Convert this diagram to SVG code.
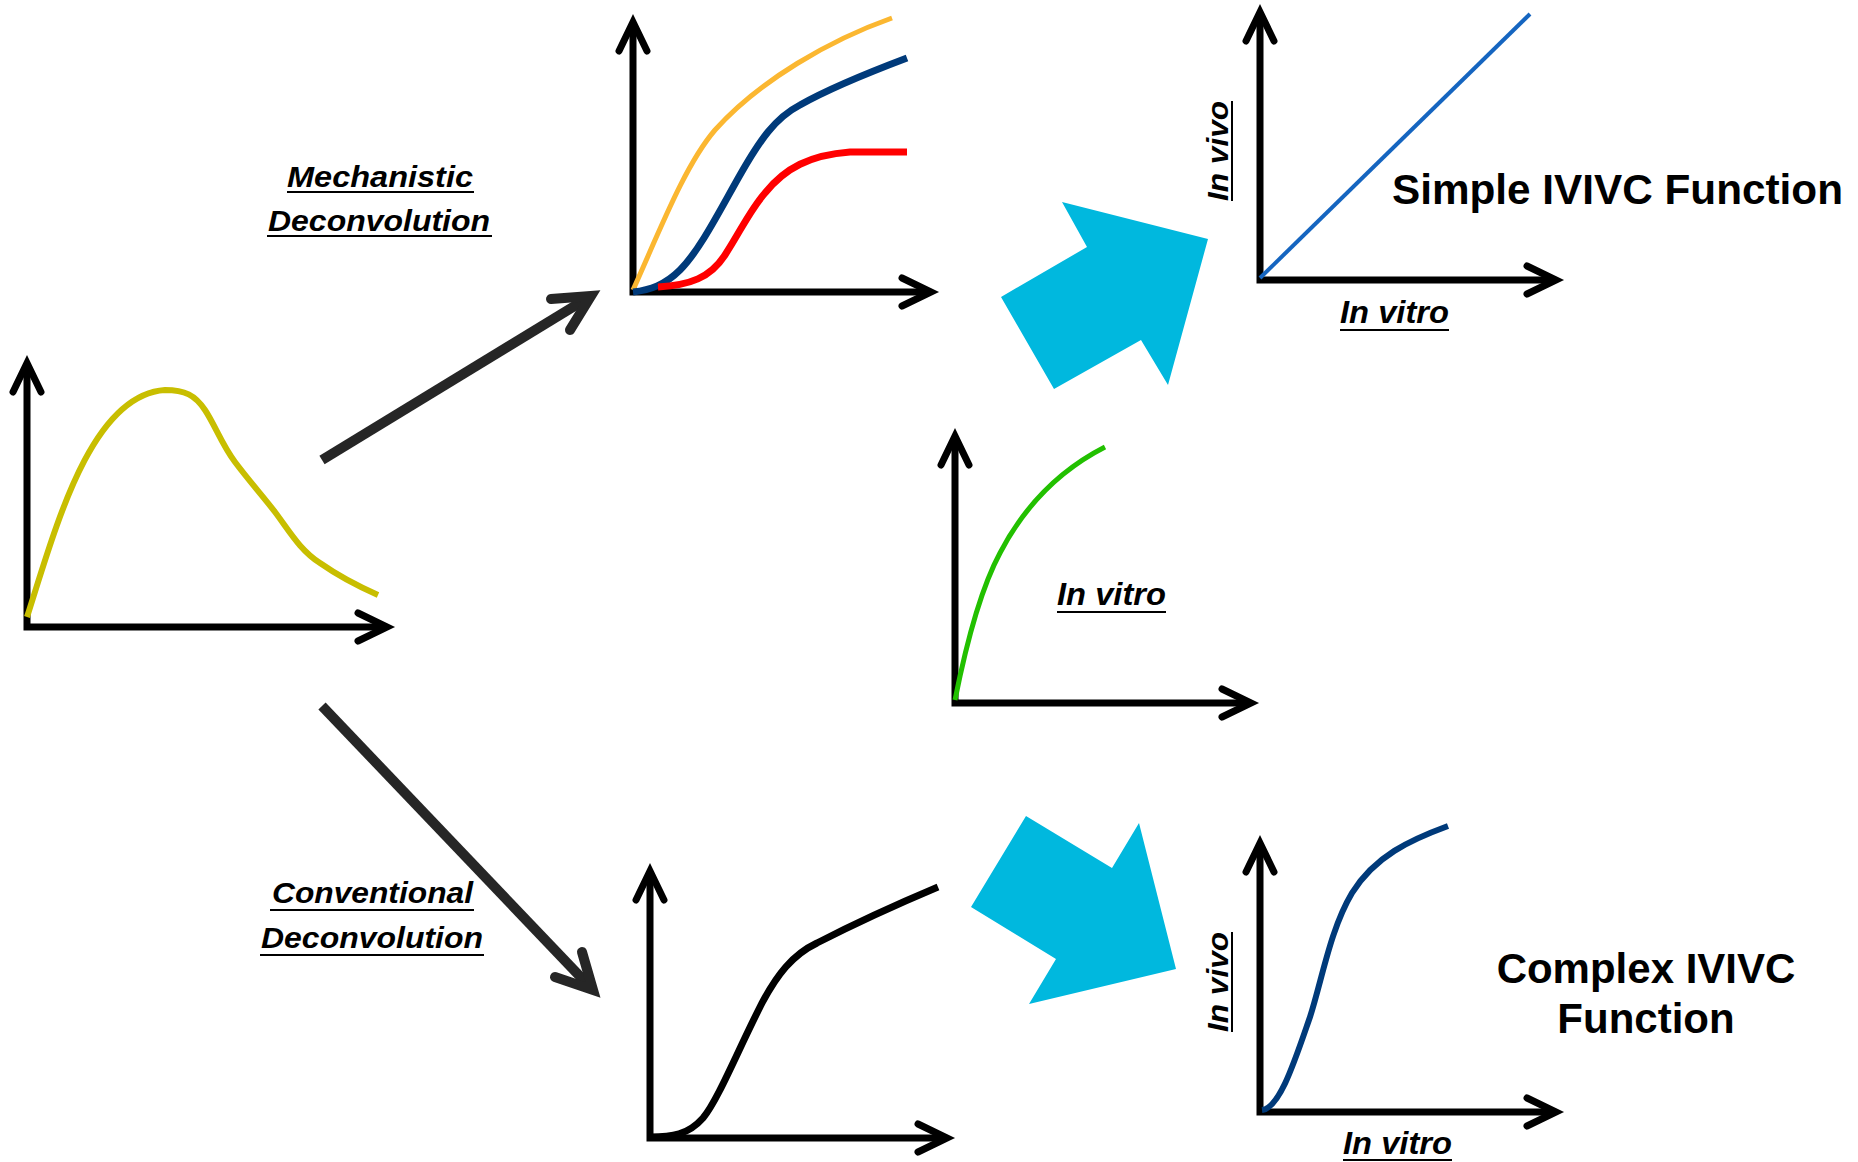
<svg xmlns="http://www.w3.org/2000/svg" width="1858" height="1162" viewBox="0 0 1858 1162">
<style>
.ax{fill:none;stroke:#000;stroke-width:7;stroke-linecap:round;stroke-linejoin:miter}
.axl{fill:none;stroke:#000;stroke-width:7;stroke-linecap:butt}
.cv{fill:none;stroke-linecap:butt;stroke-linejoin:round}
.lbl{font-family:"Liberation Sans",Arial,sans-serif;font-weight:bold;font-style:italic;fill:#000}
.ttl{font-family:"Liberation Sans",Arial,sans-serif;font-weight:bold;fill:#000}
.ul{stroke:#000;stroke-width:2}
.conn{fill:none;stroke:#262626;stroke-width:10}
.big{fill:#00B8DE}
</style>
<rect width="1858" height="1162" fill="#fff"/>

<g id="plot-plasma">
<path class="axl" d="M27,363 V627 H387"/>
<path class="ax" d="M13,392 L27,363 L41,392 M358,613 L387,627 L358,641"/>
<path class="cv" stroke="#C8BE00" stroke-width="6" d="M27,617 C55,530 90,395 165,390 C185,390 195,395 205,410 C215,425 222,445 235,462 C250,482 262,495 275,512 C290,532 300,550 320,563 C340,577 360,587 378,595"/>
</g>

<g id="plot-mechanistic">
<path class="axl" d="M633,22 V292 H931"/>
<path class="ax" d="M619,51 L633,22 L647,51 M902,278 L931,292 L902,306"/>
<path class="cv" stroke="#FBB731" stroke-width="5" d="M633,290 C660,230 685,165 715,130 C760,80 830,40 892,18"/>
<path class="cv" stroke="#003A7A" stroke-width="7" stroke-linecap="round" d="M633,292 C650,290 665,285 680,270 C700,250 720,210 740,175 C760,140 775,118 800,105 C830,88 870,72 907,58"/>
<path class="cv" stroke="#FF0000" stroke-width="7" d="M658,287 C690,285 710,278 725,255 C740,232 750,210 765,193 C785,168 810,155 850,152 L907,152"/>
</g>

<g id="plot-simple">
<path class="axl" d="M1260,12 V280 H1556"/>
<path class="ax" d="M1246,41 L1260,12 L1274,41 M1527,266 L1556,280 L1527,294"/>
<path class="cv" stroke="#1565C0" stroke-width="4" d="M1260,278 L1530,14"/>
<text class="lbl" font-size="30" transform="translate(1228,151) rotate(-90)" text-anchor="middle" textLength="100" lengthAdjust="spacingAndGlyphs">In vivo</text>
<line class="ul" x1="1232" y1="101" x2="1232" y2="201"/>
<text class="lbl" font-size="31" x="1340" y="323" textLength="109" lengthAdjust="spacingAndGlyphs">In vitro</text>
<line class="ul" x1="1340" y1="330" x2="1449" y2="330"/>
<text class="ttl" font-size="42" x="1392" y="204" textLength="451" lengthAdjust="spacingAndGlyphs">Simple IVIVC Function</text>
</g>

<g id="plot-invitro">
<path class="axl" d="M955,436 V703 H1251"/>
<path class="ax" d="M941,465 L955,436 L969,465 M1222,689 L1251,703 L1222,717"/>
<path class="cv" stroke="#22C000" stroke-width="5" d="M955,700 C965,650 980,590 1000,553 C1025,505 1060,470 1105,447"/>
<text class="lbl" font-size="31" x="1057" y="605" textLength="109" lengthAdjust="spacingAndGlyphs">In vitro</text>
<line class="ul" x1="1057" y1="612" x2="1166" y2="612"/>
</g>

<g id="plot-conventional">
<path class="axl" d="M650,871 V1138 H947"/>
<path class="ax" d="M636,900 L650,871 L664,900 M918,1124 L947,1138 L918,1152"/>
<path class="cv" stroke="#000" stroke-width="7" stroke-linecap="round" d="M650,1137 C672,1137 688,1135 703,1118 C718,1100 738,1050 762,1003 C777,975 792,955 817,943 C852,925 900,903 938,887"/>
</g>

<g id="plot-complex">
<path class="axl" d="M1260,843 V1112 H1556"/>
<path class="ax" d="M1246,872 L1260,843 L1274,872 M1527,1098 L1556,1112 L1527,1126"/>
<path class="cv" stroke="#003A7A" stroke-width="6" d="M1262,1110 C1280,1108 1295,1060 1310,1017 C1322,980 1330,930 1352,893 C1375,856 1410,840 1448,826"/>
<text class="lbl" font-size="30" transform="translate(1228,982) rotate(-90)" text-anchor="middle" textLength="100" lengthAdjust="spacingAndGlyphs">In vivo</text>
<line class="ul" x1="1232" y1="932" x2="1232" y2="1032"/>
<text class="lbl" font-size="31" x="1343" y="1154" textLength="109" lengthAdjust="spacingAndGlyphs">In vitro</text>
<line class="ul" x1="1343" y1="1160" x2="1452" y2="1160"/>
<text class="ttl" font-size="42" x="1646" y="983" text-anchor="middle">Complex IVIVC</text>
<text class="ttl" font-size="42" x="1646" y="1033" text-anchor="middle">Function</text>
</g>

<g id="label-mechanistic">
<text class="lbl" font-size="30" x="287" y="187" textLength="186" lengthAdjust="spacingAndGlyphs">Mechanistic</text>
<line class="ul" x1="287" y1="192" x2="474" y2="192"/>
<text class="lbl" font-size="30" x="268" y="231" textLength="222" lengthAdjust="spacingAndGlyphs">Deconvolution</text>
<line class="ul" x1="267" y1="236" x2="492" y2="236"/>
</g>

<g id="label-conventional">
<text class="lbl" font-size="30" x="272" y="903" textLength="201" lengthAdjust="spacingAndGlyphs">Conventional</text>
<line class="ul" x1="270" y1="910" x2="474" y2="910"/>
<text class="lbl" font-size="30" x="261" y="948" textLength="222" lengthAdjust="spacingAndGlyphs">Deconvolution</text>
<line class="ul" x1="260" y1="955" x2="484" y2="955"/>
</g>

<g id="connectors">
<path class="conn" d="M322,460 L591,296"/>
<path class="conn" stroke-linecap="round" stroke-linejoin="miter" d="M551,299 L591,296 L570,330"/>
<path class="conn" d="M322,706 L593,990"/>
<path class="conn" stroke-linecap="round" stroke-linejoin="miter" d="M555,977 L593,990 L582,952"/>
<polygon class="big" points="1062,202 1208,239 1168,385 1141,340 1054,389 1001,297 1087,247"/>
<polygon class="big" points="1026,816 1112,868 1139,823 1176,969 1029,1004 1056,959 971,907"/>
</g>
</svg>
